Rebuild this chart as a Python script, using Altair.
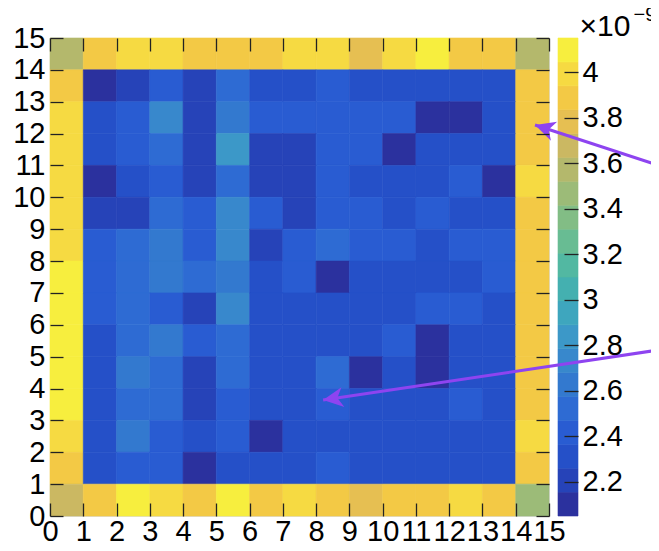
import math
import altair as alt
import pandas as pd

# ---- data (values in units of 1e-9), rows listed from top (y=14) to bottom (y=0)
row_values = [
    [3.57, 3.88, 3.99, 3.99, 3.88, 3.88, 3.88, 3.99, 3.99, 3.78, 3.99, 4.10, 3.88, 3.88, 3.57],
    [3.88, 2.10, 2.22, 2.40, 2.22, 2.48, 2.30, 2.30, 2.40, 2.30, 2.30, 2.30, 2.30, 2.30, 3.88],
    [3.99, 2.30, 2.40, 2.73, 2.22, 2.63, 2.40, 2.40, 2.40, 2.40, 2.40, 2.14, 2.14, 2.30, 3.88],
    [3.99, 2.30, 2.40, 2.48, 2.22, 2.84, 2.22, 2.22, 2.40, 2.40, 2.12, 2.30, 2.30, 2.30, 3.88],
    [3.99, 2.12, 2.30, 2.40, 2.22, 2.48, 2.22, 2.22, 2.40, 2.30, 2.30, 2.30, 2.42, 2.12, 3.99],
    [3.99, 2.22, 2.22, 2.52, 2.40, 2.73, 2.40, 2.22, 2.40, 2.40, 2.30, 2.40, 2.30, 2.30, 3.88],
    [3.99, 2.40, 2.52, 2.63, 2.40, 2.73, 2.22, 2.40, 2.52, 2.40, 2.40, 2.30, 2.40, 2.40, 3.88],
    [4.10, 2.40, 2.52, 2.63, 2.52, 2.63, 2.30, 2.40, 2.10, 2.30, 2.30, 2.30, 2.30, 2.40, 3.88],
    [4.10, 2.40, 2.52, 2.40, 2.22, 2.73, 2.30, 2.30, 2.30, 2.30, 2.30, 2.40, 2.40, 2.30, 3.88],
    [4.10, 2.30, 2.52, 2.63, 2.40, 2.52, 2.30, 2.30, 2.30, 2.30, 2.40, 2.12, 2.30, 2.30, 3.88],
    [4.10, 2.30, 2.63, 2.52, 2.22, 2.52, 2.30, 2.30, 2.52, 2.12, 2.30, 2.12, 2.30, 2.30, 3.88],
    [4.10, 2.30, 2.52, 2.52, 2.22, 2.40, 2.30, 2.30, 2.42, 2.30, 2.30, 2.30, 2.40, 2.30, 3.88],
    [3.99, 2.30, 2.63, 2.40, 2.30, 2.40, 2.10, 2.30, 2.30, 2.30, 2.30, 2.30, 2.30, 2.30, 3.99],
    [3.88, 2.30, 2.40, 2.40, 2.12, 2.30, 2.30, 2.30, 2.40, 2.30, 2.30, 2.30, 2.30, 2.30, 3.88],
    [3.68, 3.88, 4.10, 3.99, 3.88, 4.10, 3.88, 3.99, 3.88, 3.78, 3.88, 3.88, 3.99, 3.88, 3.47],
]

# colour palette bands (20 contours, bottom -> top)
band_colors = [
    "#2b319e", "#2643b8", "#2550c8", "#295cd2", "#2e6bd3",
    "#3379cf", "#3888cc", "#3c98c8", "#3ea6be", "#44b0b0",
    "#52b8a2", "#68bc93", "#82bd85", "#9cbb78", "#b4b86c",
    "#cbb862", "#e6bf52", "#f3c945", "#f6da42", "#f7ee3e",
]
z_min, z_max = 2.05, 4.15
cbar_ticks = [2.2, 2.4, 2.6, 2.8, 3.0, 3.2, 3.4, 3.6, 3.8, 4.0]
axis_ticks = list(range(16))
scale_mantissa = "×10"
scale_exponent = "−9"

# annotation arrows (data coordinates): head = tip, tail = far end (off to the right)
arrow_ids = ["a1", "a2"]
arrow_head_x = [14.58, 8.21]
arrow_head_y = [12.27, 3.64]
arrow_tail_x = [18.3, 18.3]
arrow_tail_y = [11.0, 5.21]

# ---- tables
W, H = 499, 478
n = len(row_values)
band_w = (z_max - z_min) / len(band_colors)

cells = []
for r, row in enumerate(row_values):
    yi = n - 1 - r
    for xi, v in enumerate(row):
        b = min(len(band_colors) - 1, max(0, int((v - z_min) / band_w)))
        cells.append({"x0": xi, "x1": xi + 1, "y0": yi, "y1": yi + 1, "z": v, "color": band_colors[b]})
cells = pd.DataFrame(cells)

cbar = pd.DataFrame({
    "lo": [z_min + i * band_w for i in range(len(band_colors))],
    "hi": [z_min + (i + 1) * band_w for i in range(len(band_colors))],
    "color": band_colors,
    "c0": 0, "c1": 1,
})

lines = []
heads = []
for i, a in enumerate(arrow_ids):
    lines.append({"arrow": a, "order": 0, "x": arrow_head_x[i], "y": arrow_head_y[i]})
    lines.append({"arrow": a, "order": 1, "x": arrow_tail_x[i], "y": arrow_tail_y[i]})
    dx = (arrow_tail_x[i] - arrow_head_x[i]) * W / 15
    dy = -(arrow_tail_y[i] - arrow_head_y[i]) * H / 15
    ang = math.degrees(math.atan2(dy, dx)) % 360
    heads.append({"arrow": a, "x": arrow_head_x[i], "y": arrow_head_y[i], "angle": ang})
lines = pd.DataFrame(lines)
heads = pd.DataFrame(heads)

FONT = "Liberation Sans"
FS = 29
PURPLE = "#8e44f0"
TICK = "#222222"
dom = alt.Scale(domain=[0, 15], nice=False, zero=False)

heat = alt.Chart(cells).mark_rect(strokeWidth=0.6).encode(
    x=alt.X("x0:Q", scale=dom, axis=alt.Axis(
        orient="bottom", values=axis_ticks, format="d", offset=-13, tickSize=13, domain=False,
        grid=False, labelOverlap=False, labelFlush=False, labelPadding=1, labelFontSize=FS,
        labelFont=FONT, labelColor="black", tickColor=TICK, tickWidth=1.3, title=None, zindex=1)),
    x2="x1:Q",
    y=alt.Y("y0:Q", scale=dom, axis=alt.Axis(
        orient="left", values=axis_ticks, format="d", offset=-13, tickSize=13, domain=False,
        grid=False, labelOverlap=False, labelFlush=False, labelPadding=5, labelFontSize=FS,
        labelFont=FONT, labelColor="black", tickColor=TICK, tickWidth=1.3, title=None, zindex=1)),
    y2="y1:Q",
    color=alt.Color("color:N", scale=None),
    stroke=alt.Color("color:N", scale=None),
)

colorbar = alt.Chart(cbar).mark_rect(strokeWidth=0.6).encode(
    x=alt.X("c0:Q", scale=alt.Scale(domain=[0, 1], range=[508, 528], nice=False, zero=False), axis=None),
    x2="c1:Q",
    y=alt.Y("lo:Q", scale=alt.Scale(domain=[z_min, z_max], nice=False, zero=False), axis=alt.Axis(
        orient="right", values=cbar_ticks, format=".1~f", offset=15, tickSize=14, domain=False,
        grid=False, labelOverlap=False, labelFlush=False, labelPadding=4, labelFontSize=FS,
        labelFont=FONT, labelColor="black", tickColor=TICK, tickWidth=1.3, zindex=1,
        title=scale_exponent, titleAngle=0, titleX=69, titleY=-18, titleAlign="left",
        titleBaseline="alphabetic", titleFontSize=20, titleFont=FONT, titleFontWeight="normal",
        titleColor="black")),
    y2="hi:Q",
    color=alt.Color("color:N", scale=None),
    stroke=alt.Color("color:N", scale=None),
)

arrow_lines = alt.Chart(lines).mark_line(color=PURPLE, strokeWidth=3, clip=False).encode(
    x=alt.X("x:Q", scale=dom, axis=alt.Axis(
        orient="top", values=axis_ticks, labels=False, offset=-13, tickSize=13, domain=False,
        grid=False, tickColor=TICK, tickWidth=1.3, title=None, zindex=1)),
    y=alt.Y("y:Q", scale=dom, axis=alt.Axis(
        orient="right", values=axis_ticks, labels=False, offset=-13, tickSize=13, domain=False,
        grid=False, tickColor=TICK, tickWidth=1.3, zindex=1,
        title=scale_mantissa, titleAngle=0, titleX=43, titleY=-3, titleAlign="left",
        titleBaseline="alphabetic", titleFontSize=30, titleFont=FONT, titleFontWeight="normal",
        titleColor="black")),
    detail="arrow:N",
    order="order:Q",
)

arrow_heads = alt.Chart(heads).mark_point(
    shape="M0,0 L1,-0.5 L0.72,0 L1,0.5 Z", size=1600, filled=True, color=PURPLE, opacity=1, clip=False
).encode(
    x=alt.X("x:Q", scale=dom, axis=None),
    y=alt.Y("y:Q", scale=dom, axis=None),
    angle=alt.Angle("angle:Q", scale=None),
)

chart = alt.layer(heat, colorbar, arrow_lines, arrow_heads).resolve_scale(
    x="independent", y="independent"
).resolve_axis(
    x="independent", y="independent"
).properties(
    width=W, height=H,
    autosize=alt.AutoSizeParams(type="none"),
    padding={"left": 42, "top": 30, "right": 102, "bottom": 27},
).configure_view(stroke="#2b2b2b", strokeWidth=1.5).configure(background="white")

chart.save("out.html", embed_options={"renderer": "svg", "actions": False})
